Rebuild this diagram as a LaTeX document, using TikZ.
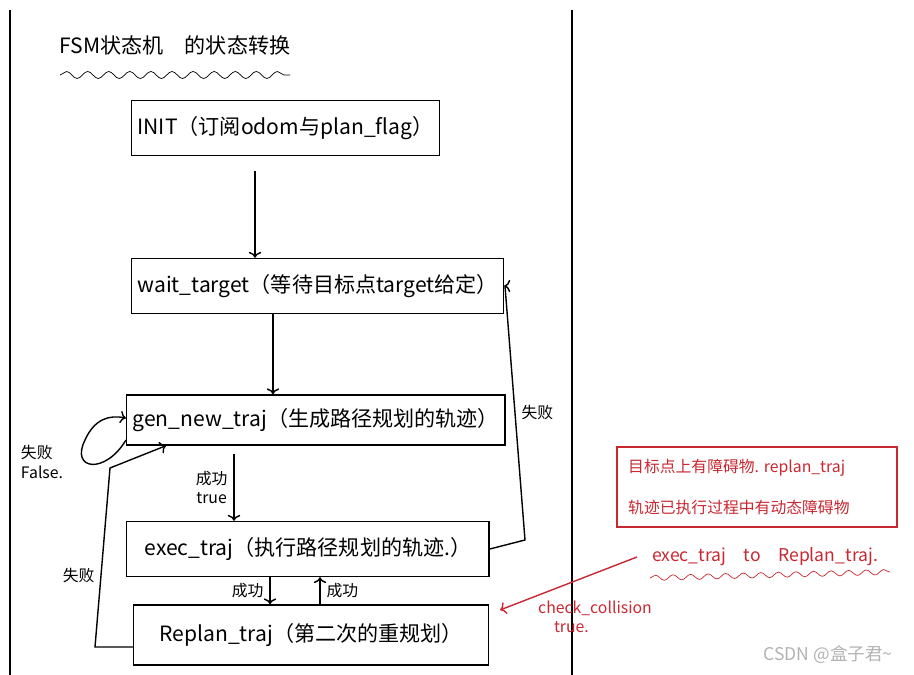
\documentclass[tikz,border=0pt]{standalone}
\usepackage{fontspec}
\setmainfont{Noto Sans CJK SC}
\usetikzlibrary{arrows.meta}
\usetikzlibrary{positioning, calc, decorations.pathmorphing}
\definecolor{penred}{RGB}{200,40,50}
\begin{document}
\begin{tikzpicture}[x=0.02cm, y=-0.02cm, auto,
    stateblock/.style={rectangle, draw, thick, minimum height=1.1cm, anchor=west, font=\large},
    edgelabel/.style={font=\small},
    redtext/.style={text=penred, font=\small}]
    \useasboundingbox (0,0) rectangle (914,675);
    % Paper edges
    \draw [thick] (10,10) -- (10,675);
    \draw [thick] (572,10) -- (572,675);

    % Title
    \node [font=\large] (title) at (175,45) {FSM状态机\quad 的状态转换};
    \draw [decorate, decoration={snake, amplitude=2pt, segment length=12pt}] (60,75) -- (290,75);

    % States
    \node [stateblock, minimum width=5.35cm] (init) at (131,128) {INIT（订阅odom与plan\_flag）};
    \node [stateblock, minimum width=6.35cm] (wait) at (131,286) {wait\_target（等待目标点target给定）};
    \node [stateblock, minimum width=6.95cm, minimum height=1cm] (gen) at (126,420) {gen\_new\_traj（生成路径规划的轨迹）};
    \node [stateblock, minimum width=7.25cm] (exec) at (126,549) {exec\_traj（执行路径规划的轨迹.）};
    \node [stateblock, minimum width=7.1cm, minimum height=1.2cm] (replan) at (133,635) {Replan\_traj（第二次的重规划）};

    % Helper points
    \coordinate (rtop) at (505,272);
    \coordinate (rbot) at (525,540);
    \coordinate (lbot) at (95,647);
    \coordinate (lmid) at (110,468);
    \coordinate (genin) at ($(gen.south west)+(40,0)$);
    \coordinate (loopout) at ($(gen.west)+(0,20)$);

    % Arrows
    \draw [->, thick] ($(init.south -| 255,0)+(0,15)$) -- (wait.north -| 255,0);
    \draw [->, thick] (wait.south -| 273,0) -- (gen.north -| 273,0);
    \draw [->, thick] ($(gen.south -| 234,0)+(0,8)$) -- node [edgelabel, left, align=center] {成功\\true} (exec.north -| 234,0);
    \draw [->, thick] (exec.south -| 270,0) -- node [edgelabel, left] {成功} (replan.north -| 270,0);
    \draw [->, thick] (replan.north -| 320,0) -- node [edgelabel, right] {成功} (exec.south -| 320,0);
    \draw [->, thick] (exec.east) -- (rbot) -- node [edgelabel, right] {失败} (rtop |- wait.east) -- (wait.east);
    \draw [->, thick] (replan.west |- lbot) -- (lbot) -- node [edgelabel, left, pos=0.4] {失败} (lmid) -- (genin);
    \draw [->, thick] (loopout) .. controls (105,475) and (70,470) .. (85,440) .. controls (95,418) and (110,415) .. ($(gen.west)+(0,-2)$);
    \node [edgelabel, align=left] (fail) at (42,462) {失败\\False.};

    % Red notes
    \node [draw=penred, thick, minimum width=5.6cm, minimum height=1.6cm] (note) at (757,487) {};
    \node [redtext, anchor=west] (note1) at (622,468) {目标点上有障碍物. replan\_traj};
    \node [redtext, anchor=west] (note2) at (622,507) {轨迹已执行过程中有动态障碍物};
    \node [redtext, font=\normalsize] (note3) at (765,557) {exec\_traj\quad to\quad Replan\_traj.};
    \draw [penred, decorate, decoration={snake, amplitude=1.5pt, segment length=10pt}] (650,578) -- (890,572);
    \node [redtext, align=left] (check) at (595,617) {check\_collision\\\quad true.};
    \coordinate (redfrom) at (637,557);
    \coordinate (redto) at (500,610);
    \draw [->, penred, thick] (redfrom) -- (redto);

    % Watermark
    \node [text=gray!60, font=\normalsize] (mark) at (828,655) {CSDN @盒子君\textasciitilde};
\end{tikzpicture}
\end{document}
